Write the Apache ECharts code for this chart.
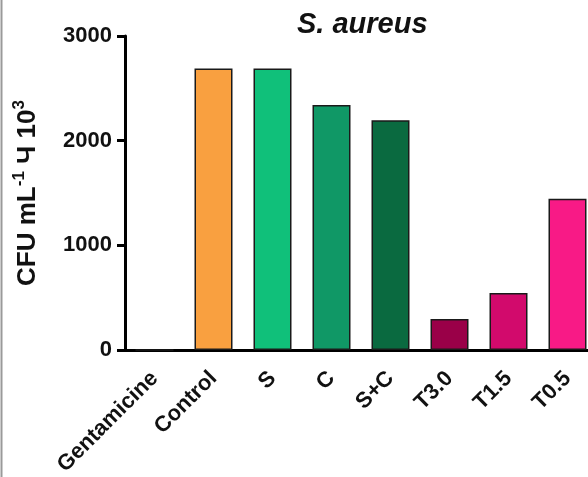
<!DOCTYPE html>
<html>
<head>
<meta charset="utf-8">
<script src="https://cdn.jsdelivr.net/npm/echarts@6/dist/echarts.min.js"></script>
<style>
  html, body { margin: 0; padding: 0; background: #fff; }
  #chart { width: 588px; height: 477px; }
</style>
</head>
<body>
<div id="chart"></div>
<script>
var categories = ['Gentamicine', 'Control', 'S', 'C', 'S+C', 'T3.0', 'T1.5', 'T0.5'];
var values = [0, 2690, 2690, 2340, 2195, 295, 545, 1445];
var barColors = ['#F9A040', '#F9A040', '#10C07A', '#109866', '#0A6A40', '#9A0048', '#D20A6C', '#F81A86'];

var chart = echarts.init(document.getElementById('chart'));

var barData = values.map(function (v, i) {
    return { value: v, itemStyle: { color: barColors[i] } };
});

chart.setOption({
    animation: false,
    title: {
        text: 'S. aureus',
        left: 292,
        top: 5,
        textStyle: {
            fontFamily: 'Liberation Sans',
            fontStyle: 'italic',
            fontWeight: 'bold',
            fontSize: 29,
            color: '#111'
        }
    },
    graphic: [{
        type: 'line',
        shape: { x1: 1.5, y1: 0, x2: 1.5, y2: 477 },
        style: { stroke: '#9a9a9a', lineWidth: 2 }
    }],
    grid: {
        left: 125,
        top: 36,
        width: 472,
        height: 314,
        outerBoundsMode: 'none',
        containLabel: false
    },
    xAxis: {
        type: 'category',
        data: categories,
        axisLine: { lineStyle: { color: '#000', width: 3 } },
        axisTick: { alignWithLabel: true, length: 7, lineStyle: { color: '#000', width: 3 } },
        axisLabel: {
            rotate: 45,
            margin: 25,
            interval: 0,
            color: '#111',
            fontFamily: 'Liberation Sans',
            fontWeight: 'bold',
            fontSize: 22
        }
    },
    yAxis: {
        type: 'value',
        min: 0,
        max: 3000,
        interval: 1000,
        name: '{n|CFU mL}{s|-1}{n| Ч 10}{s|3}',
        nameLocation: 'middle',
        nameGap: 84,
        nameTextStyle: {
            rich: {
                n: { fontFamily: 'Liberation Sans', fontWeight: 'bold', fontSize: 26, color: '#111', lineHeight: 30, verticalAlign: 'bottom' },
                s: { fontFamily: 'Liberation Sans', fontWeight: 'bold', fontSize: 17, color: '#111', lineHeight: 30, verticalAlign: 'top' }
            }
        },
        axisLine: { show: true, lineStyle: { color: '#000', width: 3 } },
        axisTick: { show: true, length: 8, lineStyle: { color: '#000', width: 3 } },
        splitLine: { show: false },
        axisLabel: {
            margin: 13,
            color: '#111',
            fontFamily: 'Liberation Sans',
            fontWeight: 'bold',
            fontSize: 22,
            formatter: function (v) { return String(v); }
        }
    },
    series: [{
        type: 'bar',
        data: barData,
        barWidth: 38,
        itemStyle: { borderColor: '#1a1a1a', borderWidth: 1.5 }
    }]
});
</script>
</body>
</html>
